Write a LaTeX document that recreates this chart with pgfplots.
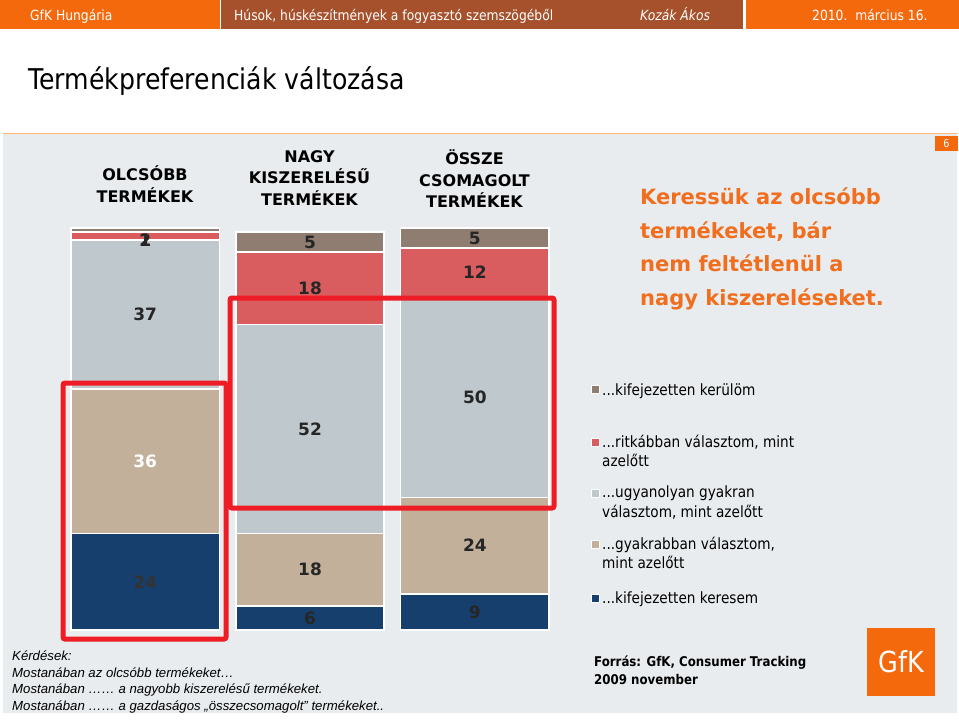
\documentclass[border=0pt]{standalone}
\usepackage{pgfplots}
\pgfplotsset{compat=1.18}
\usepackage{fontspec}
\setmainfont{Liberation Sans}
\newfontfamily\verd{DejaVu Sans}
\newfontfamily\tah[FakeStretch=0.88]{DejaVu Sans}
\newcommand\fs[2]{\fontsize{#1bp}{#2bp}\selectfont}

\definecolor{cKer}{HTML}{8E7D70}
\definecolor{cRitk}{HTML}{D95C5F}
\definecolor{cUgy}{HTML}{BEC8CD}
\definecolor{cGyak}{HTML}{C2B09B}
\definecolor{cKeres}{HTML}{173F6E}
\definecolor{hdrOrange}{HTML}{F4690C}
\definecolor{hdrBrown}{HTML}{A6512C}
\definecolor{txtOrange}{HTML}{F06E1E}
\definecolor{panel}{HTML}{E9ECEE}
\definecolor{hiRed}{HTML}{EE1C25}

\begin{document}
\begin{tikzpicture}
% slide background, pixel coordinates (origin top left)
\begin{scope}[x=1bp,y=-1bp]
  \fill[white] (0,0) rectangle (959,720);
  \useasboundingbox (0,0) rectangle (959,720);
  \fill[hdrOrange] (0,0) rectangle (220,29);
  \fill[hdrBrown] (221,0) rectangle (743,29);
  \fill[hdrOrange] (746,0) rectangle (959,29);
  \begin{scope}[every node/.style={anchor=base west,inner sep=0pt,text=white,font=\tah\fs{14}{16}}]
    \node at (30,21) {GfK Hungária};
    \node at (234,21) {Húsok, húskészítmények a fogyasztó szemszögéből};
    \node[font=\tah\itshape\fs{14}{16}] at (640,21) {Kozák Ákos};
    \node at (812,21) {2010.\ \ március 16.};
  \end{scope}
  \node[anchor=base west,inner sep=0pt,font=\tah\fs{28.6}{30}] at (28,90) {Termékpreferenciák változása};
  \fill[panel] (3,134) rectangle (957,713);
  \draw[color=orange!55!white,line width=1.2bp] (3,133.5) -- (957,133.5);
  \fill[hdrOrange] (935,136) rectangle (958,151);
  \node[white,font=\tah\fs{11}{12}] at (946.5,143.5) {6};
\end{scope}

\begin{axis}[
  at={(71bp,-630bp)}, anchor=south west,
  scale only axis, width=478bp, height=402bp,
  hide axis, clip=false,
  xmin=-0.45, xmax=2.45, ymin=0, ymax=100,
  ybar stacked, bar width=0.9,
]
\addplot[fill=cKeres, draw=white, line width=1.5bp] coordinates {(0,24) (1,6) (2,9)};
\addplot[fill=cGyak, draw=white, line width=1.5bp] coordinates {(0,36) (1,18) (2,24)};
\addplot[fill=cUgy, draw=white, line width=1.5bp] coordinates {(0,37) (1,52) (2,50)};
\addplot[fill=cRitk, draw=white, line width=1.5bp] coordinates {(0,2) (1,18) (2,12)};
\addplot[fill=cKer, draw=white, line width=1.5bp] coordinates {(0,1) (1,5) (2,5)};
\end{axis}

% segment labels, centred in the segments
\begin{axis}[
  at={(71bp,-630bp)}, anchor=south west,
  scale only axis, width=478bp, height=402bp,
  hide axis, clip=false,
  xmin=-0.45, xmax=2.45, ymin=0, ymax=100,
  nodes near coords, point meta=explicit symbolic,
  every node near coord/.append style={anchor=center, font=\verd\bfseries\fs{17}{19}},
]
\addplot[draw=none, mark=none, every node near coord/.append style={text=black!80}]
  coordinates {(0,12)[24]};
\addplot[draw=none, mark=none, every node near coord/.append style={text=white}]
  coordinates {(0,42)[36]};
\addplot[draw=none, mark=none, every node near coord/.append style={text=black!85}]
  coordinates {(0,78.5)[37] (0,97)[2] (0,97)[1]
               (1,3)[6] (1,15)[18] (1,50)[52] (1,85)[18] (1,96.5)[5]
               (2,4.5)[9] (2,21)[24] (2,58)[50] (2,89)[12] (2,97.5)[5]};
\end{axis}

\begin{scope}[x=1bp,y=-1bp]
  % highlight boxes
  \draw[hiRed,line width=5bp,rounded corners=2bp] (63,383) rectangle (226,639);
  \draw[hiRed,line width=5bp,rounded corners=2bp] (230,298) rectangle (554,508);
  % column headings
  \node[align=center,font=\verd\bfseries\fs{16}{21.5}] at (145,184) {OLCSÓBB\\TERMÉKEK};
  \node[align=center,font=\verd\bfseries\fs{16}{21.5}] at (309.5,178) {NAGY\\KISZERELÉSŰ\\TERMÉKEK};
  \node[align=center,font=\verd\bfseries\fs{16}{21.5}] at (474.5,179) {ÖSSZE\\CSOMAGOLT\\TERMÉKEK};
  % message
  \node[anchor=north west,align=left,inner sep=0pt,text=txtOrange,font=\verd\bfseries\fs{21}{33.5}]
    at (640,188) {Keressük az olcsóbb\\termékeket, bár\\nem feltétlenül a\\nagy kiszereléseket.};
  % legend
  \foreach \c/\y in {cKer/389, cRitk/442, cUgy/493, cGyak/544, cKeres/598}
    \filldraw[fill=\c,draw=white,line width=0.8bp] (591,\y-4) rectangle (599,\y+4);
  \begin{scope}[every node/.style={anchor=base west,inner sep=0pt,font=\tah\fs{15.5}{19.5}}]
    \node at (602,395) {...kifejezetten kerülöm};
    \node at (602,447) {...ritkábban választom, mint};
    \node at (602,466) {azelőtt};
    \node at (602,497) {...ugyanolyan gyakran};
    \node at (602,517) {választom, mint azelőtt};
    \node at (602,549) {...gyakrabban választom,};
    \node at (602,568) {mint azelőtt};
    \node at (602,603) {...kifejezetten keresem};
  \end{scope}
  % questions
  \begin{scope}[every node/.style={anchor=base west,inner sep=0pt,font=\itshape\fs{13.2}{16.7}}]
    \node at (12,660) {Kérdések:};
    \node at (12,677) {Mostanában az olcsóbb termékeket…};
    \node at (12,693.5) {Mostanában …… a nagyobb kiszerelésű termékeket.};
    \node at (12,710) {Mostanában …… a gazdaságos „összecsomagolt'' termékeket..};
  \end{scope}
  % source
  \begin{scope}[every node/.style={anchor=base west,inner sep=0pt,font=\tah\bfseries\fs{13.4}{18}}]
    \node at (594,666) {Forrás: GfK, Consumer Tracking};
    \node at (594,684) {2009 november};
  \end{scope}
  % logo
  \fill[hdrOrange] (867,628) rectangle (935,696);
  \node[white,font=\tah\fs{29}{30}] at (901,662) {GfK};
\end{scope}
\end{tikzpicture}
\end{document}
